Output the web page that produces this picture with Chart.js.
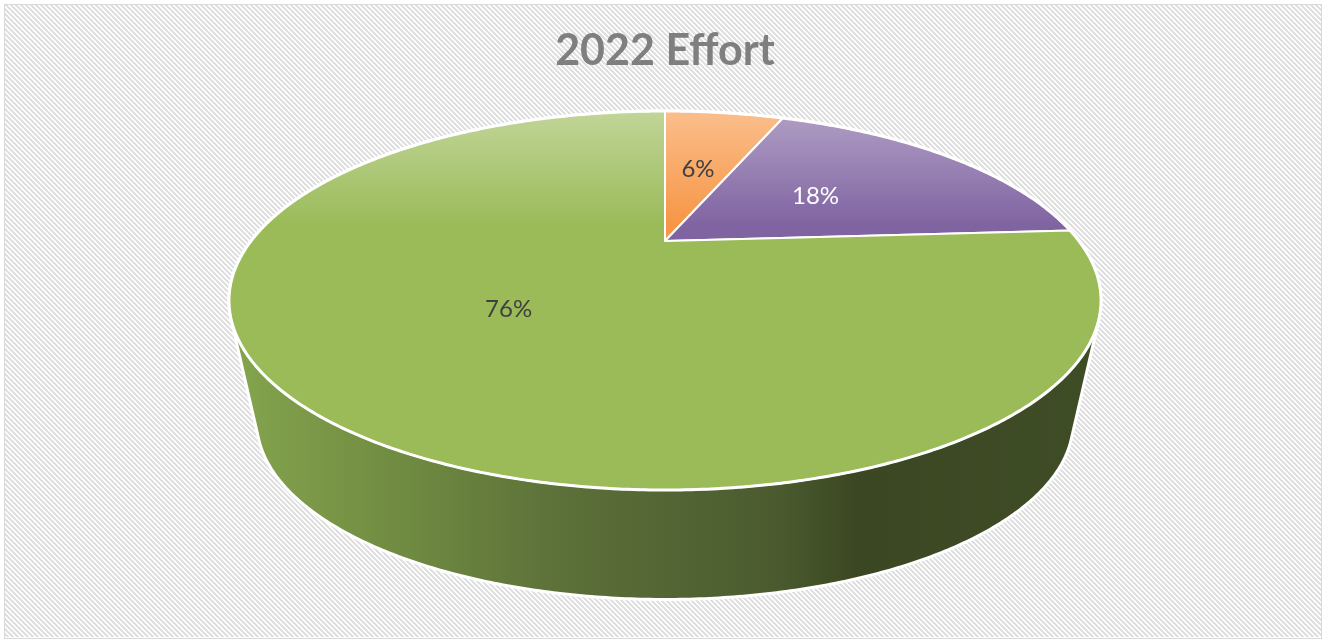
<!DOCTYPE html>
<html>
<head>
<meta charset="utf-8">
<title>2022 Effort</title>
<script src="https://cdn.jsdelivr.net/npm/chart.js@4.4.1/dist/chart.umd.min.js"></script>
<style>
  html, body { margin: 0; padding: 0; background: #fff; }
  #wrap { width: 1326px; height: 640px; }
</style>
</head>
<body>
<div id="wrap"><canvas id="effortChart" width="1326" height="640"></canvas></div>
<script>
  const labels = ['Category 1', 'Category 2', 'Category 3'];
  const effort = [6, 18, 76];
  const sliceColors = ['#f79646', '#8064a2', '#9bbb59'];
  const labelColors = ['#404040', '#ffffff', '#404040'];

  // perspective of the tilted disc: unit circle -> screen
  const K = -0.314, A = 414, B = 95.15, APEX_Y = 241;
  // the lower face shrinks toward a vanishing point far below
  const VAN_Y = 2200, DEPTH_SCALE = 0.936;

  function projTop(cx, u, v) {
    const d = 1 + K * v;
    return [cx + A * u / d, (B * v + APEX_Y) / d];
  }
  function projBottom(cx, u, v) {
    const p = projTop(cx, u, v);
    return [cx + (p[0] - cx) * DEPTH_SCALE, VAN_Y + (p[1] - VAN_Y) * DEPTH_SCALE];
  }

  function lighten(hex, amt) {
    const n = parseInt(hex.slice(1), 16);
    const r = (n >> 16) & 255, g = (n >> 8) & 255, b = n & 255;
    const m = c => Math.round(c + (255 - c) * amt);
    return 'rgb(' + m(r) + ',' + m(g) + ',' + m(b) + ')';
  }

  function convexHull(points) {
    const p = points.slice().sort((a, b) => a[0] - b[0] || a[1] - b[1]);
    const cross = (o, a, b) => (a[0] - o[0]) * (b[1] - o[1]) - (a[1] - o[1]) * (b[0] - o[0]);
    const lower = [], upper = [];
    for (const pt of p) {
      while (lower.length >= 2 && cross(lower[lower.length - 2], lower[lower.length - 1], pt) <= 0) lower.pop();
      lower.push(pt);
    }
    for (let i = p.length - 1; i >= 0; i--) {
      const pt = p[i];
      while (upper.length >= 2 && cross(upper[upper.length - 2], upper[upper.length - 1], pt) <= 0) upper.pop();
      upper.push(pt);
    }
    upper.pop(); lower.pop();
    return lower.concat(upper);
  }

  function hatchPattern(ctx) {
    const P = 5, W = 3;
    const tile = document.createElement('canvas');
    tile.width = P; tile.height = P;
    const t = tile.getContext('2d');
    t.fillStyle = '#ffffff';
    t.fillRect(0, 0, P, P);
    t.fillStyle = '#e0e0e0';
    for (let y = 0; y < P; y++) {
      for (let x = 0; x < P; x++) {
        if ((((x - y) % P) + P) % P < W) t.fillRect(x, y, 1, 1);
      }
    }
    return ctx.createPattern(tile, 'repeat');
  }

  const pie3d = {
    id: 'pie3d',
    beforeDraw(chart) {
      const ctx = chart.ctx;
      ctx.save();
      ctx.fillStyle = '#ffffff';
      ctx.fillRect(0, 0, chart.width, chart.height);
      ctx.fillStyle = hatchPattern(ctx);
      ctx.fillRect(5, 5, chart.width - 10, chart.height - 8);
      ctx.strokeStyle = '#d9d9d9';
      ctx.lineWidth = 1;
      ctx.strokeRect(4.5, 4.5, chart.width - 9, chart.height - 6);
      ctx.restore();
    },
    beforeDatasetsDraw(chart) {
      const ctx = chart.ctx;
      const meta = chart.getDatasetMeta(0);
      const cx = meta.data[0].x;
      const steps = 720;

      // side wall: hull of both faces
      const pts = [];
      for (let i = 0; i < steps; i++) {
        const a = i / steps * Math.PI * 2;
        pts.push(projTop(cx, Math.cos(a), Math.sin(a)));
        pts.push(projBottom(cx, Math.cos(a), Math.sin(a)));
      }
      const hull = convexHull(pts);
      ctx.save();
      ctx.beginPath();
      hull.forEach((p, i) => i ? ctx.lineTo(p[0], p[1]) : ctx.moveTo(p[0], p[1]));
      ctx.closePath();
      const sg = ctx.createLinearGradient(235, 0, 1100, 0);
      sg.addColorStop(0, '#84a44d');
      sg.addColorStop(0.2, '#6f8a41');
      sg.addColorStop(0.38, '#5c7039');
      sg.addColorStop(0.63, '#4a5a2e');
      sg.addColorStop(0.72, '#3b4722');
      sg.addColorStop(1, '#3f4d27');
      ctx.fillStyle = sg;
      ctx.fill();
      ctx.strokeStyle = '#ffffff';
      ctx.lineWidth = 3;
      ctx.lineJoin = 'round';
      ctx.stroke();

      // top face slices
      const apex = projTop(cx, 0, 0);
      meta.data.forEach((arc, i) => {
        const { startAngle, endAngle } = arc.getProps(['startAngle', 'endAngle'], true);
        const n = Math.max(2, Math.ceil((endAngle - startAngle) / (Math.PI * 2) * steps));
        ctx.beginPath();
        ctx.moveTo(apex[0], apex[1]);
        for (let j = 0; j <= n; j++) {
          const a = startAngle + (endAngle - startAngle) * j / n;
          const p = projTop(cx, Math.cos(a), Math.sin(a));
          ctx.lineTo(p[0], p[1]);
        }
        ctx.closePath();
        const base = sliceColors[i];
        const g = ctx.createLinearGradient(0, 111, 0, 225);
        g.addColorStop(0, lighten(base, 0.38));
        g.addColorStop(1, base);
        ctx.fillStyle = g;
        ctx.fill();
        ctx.strokeStyle = '#ffffff';
        ctx.lineWidth = 2;
        ctx.stroke();
      });

      // rim of the top face
      ctx.beginPath();
      for (let i = 0; i <= steps; i++) {
        const a = i / steps * Math.PI * 2;
        const p = projTop(cx, Math.cos(a), Math.sin(a));
        i ? ctx.lineTo(p[0], p[1]) : ctx.moveTo(p[0], p[1]);
      }
      ctx.closePath();
      ctx.lineWidth = 3;
      ctx.stroke();

      // percentage labels
      const total = effort.reduce((s, v) => s + v, 0);
      ctx.font = '24px Lato, "Open Sans", sans-serif';
      ctx.textAlign = 'center';
      ctx.textBaseline = 'middle';
      meta.data.forEach((arc, i) => {
        const { startAngle, endAngle } = arc.getProps(['startAngle', 'endAngle'], true);
        const mid = (startAngle + endAngle) / 2;
        const p = projTop(cx, 0.49 * Math.cos(mid), 0.49 * Math.sin(mid));
        ctx.fillStyle = labelColors[i];
        ctx.fillText(Math.round(effort[i] / total * 100) + '%', p[0], p[1]);
      });
      ctx.restore();
      return false;
    }
  };

  const data = {
    labels: labels,
    datasets: [{
      data: effort,
      backgroundColor: sliceColors,
      borderWidth: 0
    }]
  };

  const config = {
    type: 'pie',
    data: data,
    options: {
      responsive: false,
      animation: false,
      layout: { padding: { left: 4 } },
      plugins: {
        legend: { display: false },
        tooltip: { enabled: false },
        title: {
          display: true,
          text: '2022 Effort',
          color: '#7f7f7f',
          font: { family: 'Lato', size: 43, weight: 'bold' },
          padding: { top: 25, bottom: 10 }
        }
      }
    },
    plugins: [pie3d]
  };

  const effortChart = new Chart(document.getElementById('effortChart'), config);
</script>
</body>
</html>
